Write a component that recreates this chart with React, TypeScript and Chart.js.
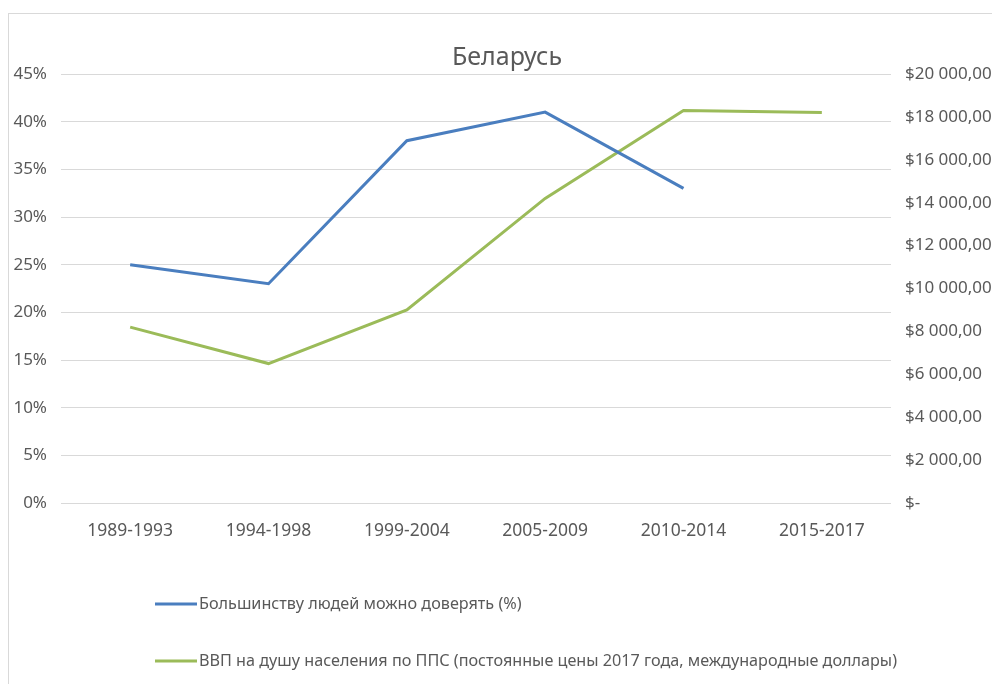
import React, { useEffect, useRef } from 'react';
import { Chart, registerables } from 'chart.js';

Chart.register(...registerables);

const titleText = 'Беларусь';
const categories = ['1989-1993', '1994-1998', '1999-2004', '2005-2009', '2010-2014', '2015-2017'];
const trustLabel = 'Большинству людей можно доверять (%)';
const trustValues: (number | null)[] = [25, 23, 38, 41, 33, null];
const gdpLabel = 'ВВП на душу населения по ППС (постоянные цены 2017 года, международные доллары)';
const gdpValues = [8200, 6500, 9000, 14200, 18300, 18200];
const percentTicks = [0, 5, 10, 15, 20, 25, 30, 35, 40, 45];
const dollarTicks = [0, 2000, 4000, 6000, 8000, 10000, 12000, 14000, 16000, 18000, 20000];

const FONT = '"Noto Sans", sans-serif';
const TEXT = '#595959';
const GRID = '#d9d9d9';
const CANVAS_W = 1014;
const CANVAS_H = 684;

const formatDollar = (v: number) => {
  if (v === 0) return '$-';
  const s = Math.round(v).toString().replace(/\B(?=(\d{3})+(?!\d))/g, ' ');
  return '$' + s + ',00';
};

const stackedLegend = {
  id: 'stackedLegend',
  afterDraw(chart: any) {
    const ctx = chart.ctx;
    const x0 = 155;
    chart.data.datasets.forEach((ds: any, i: number) => {
      const y = 604 + i * 57;
      ctx.save();
      ctx.strokeStyle = ds.borderColor;
      ctx.lineWidth = 3;
      ctx.beginPath();
      ctx.moveTo(x0, y);
      ctx.lineTo(x0 + 42, y);
      ctx.stroke();
      ctx.fillStyle = TEXT;
      ctx.font = '16.2px ' + FONT;
      ctx.textBaseline = 'middle';
      ctx.textAlign = 'left';
      ctx.fillText(ds.label, x0 + 44, y);
      ctx.restore();
    });
  },
};

export default function App() {
  const ref = useRef<HTMLCanvasElement | null>(null);

  useEffect(() => {
    if (!ref.current) return;
    const chart = new Chart(ref.current, {
      type: 'line',
      data: {
        labels: categories,
        datasets: [
          {
            label: trustLabel,
            data: trustValues,
            borderColor: '#4a7ebf',
            backgroundColor: '#4a7ebf',
            borderWidth: 3,
            pointRadius: 0,
            tension: 0,
            yAxisID: 'y',
          },
          {
            label: gdpLabel,
            data: gdpValues,
            borderColor: '#9bbb59',
            backgroundColor: '#9bbb59',
            borderWidth: 3,
            pointRadius: 0,
            tension: 0,
            yAxisID: 'y1',
          },
        ],
      },
      options: {
        responsive: false,
        animation: false,
        layout: { padding: 0 },
        plugins: {
          legend: { display: false },
          tooltip: { enabled: false },
          title: {
            display: true,
            text: titleText,
            color: TEXT,
            font: { family: FONT, size: 25, weight: 'normal' },
            padding: { top: 43, bottom: 1 },
          },
        },
        scales: {
          x: {
            offset: true,
            grid: { display: false, drawTicks: false, offset: true },
            border: { display: false },
            ticks: { color: TEXT, font: { family: FONT, size: 17.5 }, padding: 18, maxRotation: 0, autoSkip: false },
            afterFit: (s: any) => { s.height = 181; },
          },
          y: {
            position: 'left',
            min: 0,
            max: 45,
            afterBuildTicks: (s: any) => { s.ticks = percentTicks.map((v) => ({ value: v })); },
            ticks: { color: TEXT, font: { family: FONT, size: 17 }, padding: 14, callback: (v: any) => v + '%' },
            grid: { color: GRID, lineWidth: 1, drawTicks: false },
            border: { display: false },
            afterFit: (s: any) => { s.width = 61; },
          },
          y1: {
            position: 'right',
            min: 0,
            max: 20000,
            afterBuildTicks: (s: any) => { s.ticks = dollarTicks.map((v) => ({ value: v })); },
            ticks: { color: TEXT, font: { family: FONT, size: 17 }, padding: 14, callback: (v: any) => formatDollar(Number(v)) },
            grid: { display: false, drawTicks: false },
            border: { display: false },
            afterFit: (s: any) => { s.width = CANVAS_W - 891; },
          },
        },
      },
      plugins: [stackedLegend],
    });
    return () => chart.destroy();
  }, []);

  return (
    <div style={{ position: 'fixed', left: 0, top: 0, width: 992, height: 684, background: '#fff', overflow: 'hidden' }}>
      <div style={{ position: 'absolute', left: 8, top: 13, width: 1000, height: 700, border: '1px solid #d9d9d9' }} />
      <canvas ref={ref} width={CANVAS_W} height={CANVAS_H} style={{ position: 'absolute', left: 0, top: 0 }} />
    </div>
  );
}
